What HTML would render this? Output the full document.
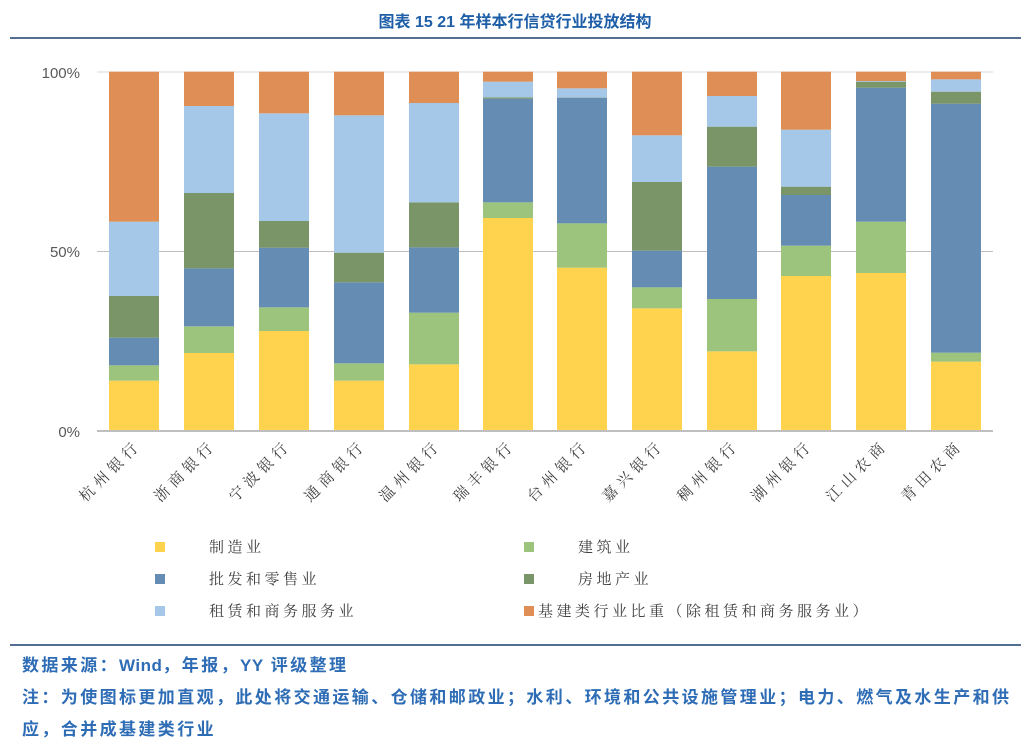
<!DOCTYPE html>
<html><head><meta charset="utf-8"><style>
body{margin:0;width:1031px;height:749px;background:#fff;overflow:hidden;font-family:"Liberation Sans","Noto Sans CJK SC",sans-serif}
</style></head><body>
<svg id="s" width="1031" height="749" xmlns="http://www.w3.org/2000/svg" style="position:absolute;left:0;top:0">
<text x="515" y="27" text-anchor="middle" font-size="16" font-weight="bold" fill="#1f5fa8" font-family="Liberation Sans,Noto Sans CJK SC,sans-serif">图表 15 21 年样本行信贷行业投放结构</text>
<line x1="10" y1="38" x2="1021" y2="38" stroke="#1c3f6e" stroke-width="1.5"/>
<line x1="97" y1="72" x2="993" y2="72" stroke="#d9d9d9"/>
<line x1="97" y1="251.5" x2="993" y2="251.5" stroke="#bfbfbf"/>
<g font-size="15" fill="#595959" text-anchor="end" font-family="Liberation Sans,sans-serif">
<text x="80" y="78">100%</text><text x="80" y="257">50%</text><text x="80" y="437">0%</text>
</g>
<g id="bars"></g>
<line x1="97" y1="431" x2="993" y2="431" stroke="#bfbfbf" stroke-width="2"/>
<g id="labs" font-size="15" fill="#404040" style="font-family:'Noto Serif CJK SC','Liberation Serif',serif"></g>
<g font-size="15" fill="#404040" style="font-family:'Noto Serif CJK SC','Liberation Serif',serif" letter-spacing="3.5">
<rect x="155" y="542" width="10" height="10" fill="#ffd34d"/><text x="209" y="552">制造业</text>
<rect x="524" y="542" width="10" height="10" fill="#9dc47d"/><text x="578" y="552">建筑业</text>
<rect x="155" y="574" width="10" height="10" fill="#658db3"/><text x="209" y="584">批发和零售业</text>
<rect x="524" y="574" width="10" height="10" fill="#7a9668"/><text x="578" y="584">房地产业</text>
<rect x="155" y="606" width="10" height="10" fill="#a5c8e8"/><text x="209" y="616">租赁和商务服务业</text>
<rect x="524" y="606" width="10" height="10" fill="#df8f56"/><text x="538" y="616">基建类行业比重（除租赁和商务服务业）</text>
</g>
<line x1="10" y1="645" x2="1021" y2="645" stroke="#1c3f6e" stroke-width="1.5"/>
<g font-size="17" font-weight="bold" fill="#2e6db5" font-family="Liberation Sans,Noto Sans CJK SC,sans-serif" letter-spacing="2.4">
<text x="22" y="671">数据来源：<tspan letter-spacing="0.5">Wind</tspan>，年报，<tspan letter-spacing="0.5">YY</tspan> 评级整理</text>
<text x="22" y="703">注：为使图标更加直观，此处将交通运输、仓储和邮政业；水利、环境和公共设施管理业；电力、燃气及水生产和供</text>
<text x="22" y="735">应，合并成基建类行业</text>
</g>
</svg>
<script>
var cols=["#ffd34d","#9dc47d","#658db3","#7a9668","#a5c8e8","#df8f56"];
var xs=[109,184,259,334,409,483,557,632,707,781,856,931];
var d=[[962,916,833,708,485],[879,799,625,399,138],[813,742,563,483,160],[962,910,667,578,166],[913,758,562,427,129],[474,427,116,112,65],[623,490,113,112,85],[745,682,572,366,226],[874,717,320,200,108],[648,557,405,380,209],[639,485,83,65,63],[905,878,131,95,58]];
var names=["杭州银行","浙商银行","宁波银行","通商银行","温州银行","瑞丰银行","台州银行","嘉兴银行","稠州银行","湖州银行","江山农商","青田农商"];
var ns="http://www.w3.org/2000/svg",g=document.getElementById("bars"),L=document.getElementById("labs");
function Y(z){return 60+z/3;}
d.forEach(function(b,i){
 var bounds=[1112].concat(b).concat([35]);
 for(var k=0;k<6;k++){var y1=Y(bounds[k+1]),y0=Y(bounds[k]);if(y0-y1<=0)continue;
  var r=document.createElementNS(ns,"rect");r.setAttribute("x",xs[i]);r.setAttribute("width",50);
  r.setAttribute("y",y1);r.setAttribute("height",y0-y1);r.setAttribute("fill",cols[k]);g.appendChild(r);}
 var t=document.createElementNS(ns,"text");var cx=xs[i]+33,cy=446;
 t.setAttribute("x",cx);t.setAttribute("y",cy);t.setAttribute("text-anchor","end");
 t.setAttribute("letter-spacing","5");
 t.setAttribute("transform","rotate(-45 "+cx+" "+cy+")");t.textContent=names[i];L.appendChild(t);
});
</script>
</body></html>
